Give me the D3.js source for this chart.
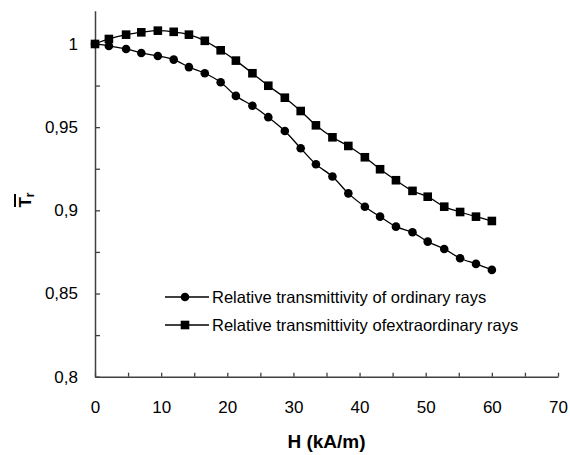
<!DOCTYPE html>
<html>
<head>
<meta charset="utf-8">
<script src="https://cdn.jsdelivr.net/npm/d3@7"></script>
<style>
  body { margin: 0; background: #fff; }
  svg { display: block; font-family: Arial, "Liberation Sans", sans-serif; }
</style>
</head>
<body>
<div id="chart"></div>
<script>
// field strength H (kA/m)
const fieldH = [0, 2.1, 4.7, 7.0, 9.5, 11.9, 14.2, 16.6, 19.0, 21.3, 23.8, 26.2, 28.7,
  31.1, 33.4, 35.9, 38.3, 40.8, 43.1, 45.5, 48.0, 50.3, 52.8, 55.2, 57.6, 60.0];

const ordinary = [1.0, 0.9988, 0.997, 0.9946, 0.9928, 0.9906, 0.9861, 0.9824, 0.977, 0.9688,
  0.9629, 0.956, 0.9477, 0.9373, 0.9277, 0.9203, 0.9102, 0.9022, 0.8962, 0.8902,
  0.8868, 0.8812, 0.8768, 0.8712, 0.8678, 0.8642];

const extraordinary = [1.0, 1.003, 1.0056, 1.007, 1.008, 1.0073, 1.0056, 1.0019, 0.9962, 0.99,
  0.9824, 0.9749, 0.9677, 0.9597, 0.9511, 0.9439, 0.9387, 0.9319, 0.9247, 0.9181,
  0.9117, 0.9082, 0.9022, 0.899, 0.8962, 0.8936];

const seriesNames = ['Relative transmittivity of ordinary rays',
  'Relative transmittivity ofextraordinary rays'];

const xTicks = d3.range(0, 71, 5);
const yTicks = d3.range(0.8, 1.0001, 0.025);

const width = 570;
const height = 455;

let svg = d3.select('#chart')
  .append('svg')
  .attr('width', width)
  .attr('height', height);

let x = d3.scaleLinear().domain([0, 70]).range([95, 558]);
let y = d3.scaleLinear().domain([0.8, 1.02]).range([376.7, 10.7]);

const axisColor = '#404040';

// x axis, ticks point inward
let xAxis = d3.axisBottom(x)
  .tickValues(xTicks)
  .tickSizeInner(-4)
  .tickSizeOuter(0)
  .tickPadding(24)
  .tickFormat(function (d) { return d % 10 === 0 ? d : ''; });

let gx = svg.append('g')
  .attr('transform', 'translate(0,' + y(0.8) + ')')
  .call(xAxis);

// y axis, decimal comma labels
let yAxis = d3.axisLeft(y)
  .tickValues(yTicks)
  .tickSizeInner(-5)
  .tickSizeOuter(0)
  .tickPadding(17)
  .tickFormat(function (d) {
    let r = Math.round(d * 1000);
    if (r % 50 !== 0) return '';
    return d3.format('~g')(r / 1000).replace('.', ',');
  });

let gy = svg.append('g')
  .attr('transform', 'translate(' + x(0) + ',0)')
  .call(yAxis);

[gx, gy].forEach(function (g) {
  g.select('.domain').attr('stroke', axisColor).attr('stroke-width', 1.5);
  g.selectAll('.tick line').attr('stroke', axisColor).attr('stroke-width', 1.3);
  g.selectAll('.tick text')
    .attr('fill', '#000')
    .style('font-size', '17px')
    .style('font-family', 'Arial, "Liberation Sans", sans-serif');
});

// axis titles
svg.append('text')
  .attr('x', (x(0) + x(70)) / 2)
  .attr('y', 448)
  .attr('text-anchor', 'middle')
  .style('font-size', '19px')
  .style('font-weight', 'bold')
  .text('H (kA/m)');

let yTitle = svg.append('g')
  .attr('transform', 'translate(31,200) rotate(-90)');

yTitle.append('text')
  .attr('x', 0)
  .attr('y', 0)
  .attr('text-anchor', 'middle')
  .style('font-size', '17px')
  .style('font-weight', 'bold')
  .text('T')
  .append('tspan')
  .attr('dy', 3)
  .style('font-size', '12px')
  .text('r');

yTitle.append('line')
  .attr('x1', -7)
  .attr('x2', 6)
  .attr('y1', -16)
  .attr('y2', -16)
  .attr('stroke', '#000')
  .attr('stroke-width', 2);

// series
let series = [
  { name: seriesNames[0], values: ordinary, marker: 'circle' },
  { name: seriesNames[1], values: extraordinary, marker: 'square' }
];

let line = d3.line()
  .x(function (d) { return x(d[0]); })
  .y(function (d) { return y(d[1]); })
  .curve(d3.curveCatmullRom.alpha(0.5));

function drawMarker(g, type, cx, cy) {
  if (type === 'circle') {
    g.append('circle')
      .attr('cx', cx)
      .attr('cy', cy)
      .attr('r', 4.3)
      .attr('fill', '#000');
  } else {
    g.append('rect')
      .attr('x', cx - 4.3)
      .attr('y', cy - 4.3)
      .attr('width', 8.6)
      .attr('height', 8.6)
      .attr('fill', '#000');
  }
}

series.forEach(function (s) {
  let pts = fieldH.map(function (h, i) { return [h, s.values[i]]; });
  let g = svg.append('g');
  g.append('path')
    .attr('d', line(pts))
    .attr('fill', 'none')
    .attr('stroke', '#000')
    .attr('stroke-width', 1.3);
  pts.forEach(function (p) {
    drawMarker(g, s.marker, x(p[0]), y(p[1]));
  });
});

// legend
let legend = svg.selectAll('.legend')
  .data(series)
  .enter()
  .append('g')
  .attr('class', 'legend')
  .attr('transform', function (d, i) {
    return 'translate(165,' + (297 + i * 28) + ')';
  });

legend.append('line')
  .attr('x1', 0)
  .attr('x2', 44)
  .attr('stroke', '#000')
  .attr('stroke-width', 1.3);

legend.each(function (d) {
  drawMarker(d3.select(this), d.marker, 20, 0);
});

legend.append('text')
  .attr('x', 47)
  .attr('y', 6)
  .style('font-size', '16.5px')
  .text(function (d) { return d.name; });
</script>
</body>
</html>
